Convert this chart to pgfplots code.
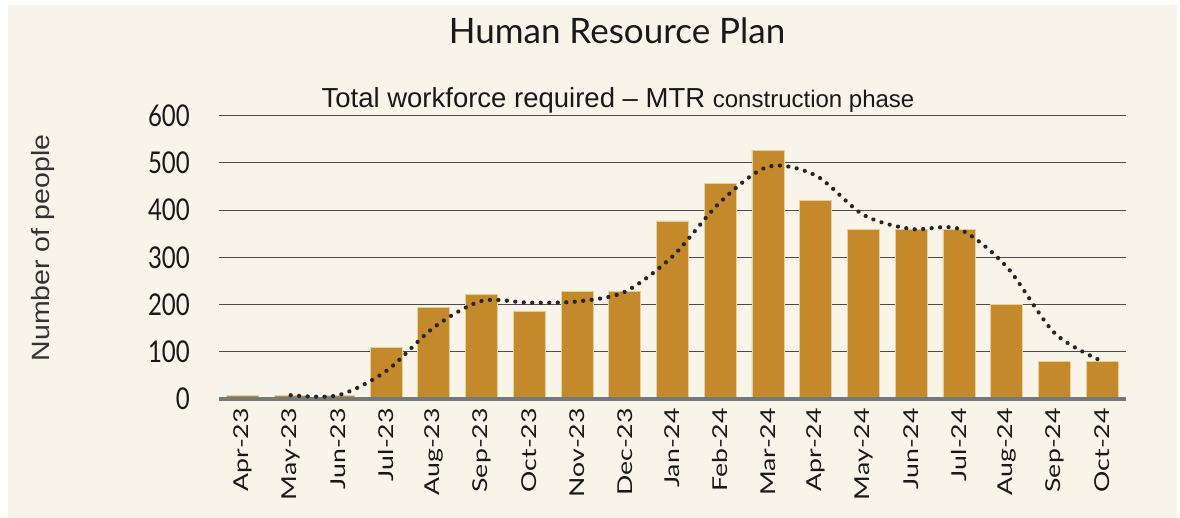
\documentclass[border=0pt]{standalone}
\usepackage{fontspec}
\usepackage{pgfplots}
\pgfplotsset{compat=1.18}
\newfontfamily\gill{Lato}
\newfontfamily\gillnarrow[FakeStretch=0.8]{Lato}
\newfontfamily\gillwide[FakeStretch=1.3]{Lato}
\newfontfamily\arial{Liberation Sans}
\newfontfamily\arialwide[FakeStretch=1.14]{Liberation Sans}
\definecolor{bgcream}{HTML}{F8F4EA}
\definecolor{barcol}{HTML}{C3892A}
\definecolor{baredge}{HTML}{E6CF98}
\definecolor{gridcol}{HTML}{4D4D4D}
\definecolor{axiscol}{HTML}{717B7D}
\begin{document}
\begin{tikzpicture}[x=1pt,y=1pt]
\fill[white] (0,0) rectangle (1180,518);
\fill[bgcream] (8,0) rectangle (1177,513);
\node[anchor=base, font={\gill\fontsize{35}{40}\selectfont}, text=black!90, inner sep=0pt] at (617,474) {Human Resource Plan};
\node[anchor=base, font={\arial\fontsize{27.5}{32}\selectfont}, text=black!90, inner sep=0pt] at (618,410) {Total workforce required – MTR {\fontsize{24}{28}\selectfont construction phase}};
\node[rotate=90, font={\arialwide\fontsize{25}{30}\selectfont}, text=black!80, inner sep=0pt] at (43,270) {Number of people};
\begin{axis}[
  at={(219pt,119pt)}, anchor=south west,
  scale only axis, width=907pt, height=283.3pt,
  xmin=-0.5, xmax=18.5, ymin=0, ymax=600,
  axis line style={draw=none},
  ytick={0,100,...,600},
  xtick={0,...,18},
  xticklabels={Apr-23,May-23,Jun-23,Jul-23,Aug-23,Sep-23,Oct-23,Nov-23,Dec-23,Jan-24,Feb-24,Mar-24,Apr-24,May-24,Jun-24,Jul-24,Aug-24,Sep-24,Oct-24},
  major tick length=0pt,
  ymajorgrids, major grid style={line width=1pt, color=gridcol},
  yticklabel style={font={\gillnarrow\fontsize{30}{34}\selectfont}, text=black!90, anchor=east, inner sep=0pt, xshift=-29pt},
  xticklabel style={font={\gillwide\fontsize{20.5}{24}\selectfont}, text=black!90, rotate=90, anchor=east, inner sep=0pt, xshift=-9pt},
  /pgf/number format/assume math mode=true,
  clip=false,
]
\addplot[ybar, bar width=32pt, fill=barcol, draw=baredge, line width=0.8pt] coordinates {
(0,8) (1,8) (2,8) (3,110) (4,193) (5,222) (6,186) (7,227) (8,227) (9,377)
(10,457) (11,527) (12,420) (13,360) (14,360) (15,360) (16,200) (17,80) (18,80)};
\draw[line width=4pt, color=axiscol] (rel axis cs:0,0) -- (rel axis cs:1,0);
\addplot[smooth, line width=4.2pt, dash pattern=on 0.1pt off 8.4pt, line cap=round, color=black!85] coordinates {
(1,8) (2,8) (3,59) (4,151.5) (5,207.5) (6,204) (7,206.5) (8,227) (9,302)
(10,417) (11,492) (12,473.5) (13,390) (14,360) (15,360) (16,280) (17,140) (18,80)};
\end{axis}
\end{tikzpicture}
\end{document}
